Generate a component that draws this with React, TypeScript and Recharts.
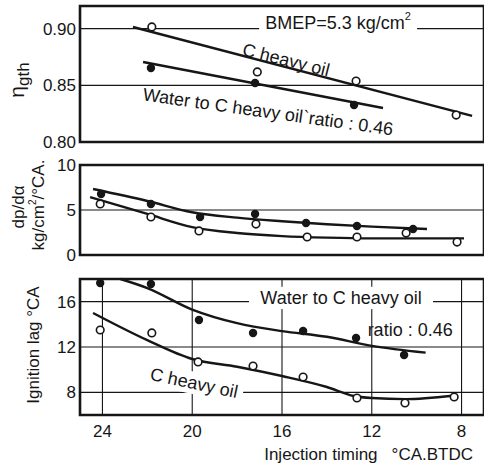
import React from 'react';
import { ComposedChart, Line, Scatter, XAxis, YAxis, CartesianGrid, ReferenceArea, ReferenceDot } from 'recharts';

const xTicks = [24, 20, 16, 12, 8];
const xDomain: [number, number] = [7, 25];

// thermal efficiency panel
const etaHeavyPts = [
  { x: 21.8, y: 0.9015 }, { x: 17.1, y: 0.8618 }, { x: 12.7, y: 0.8538 }, { x: 8.24, y: 0.8238 },
];
const etaWaterPts = [
  { x: 21.84, y: 0.8653 }, { x: 17.2, y: 0.852 }, { x: 12.79, y: 0.8327 },
];
const etaHeavyFit = [{ x: 22.64, y: 0.9015 }, { x: 7.53, y: 0.823 }];
const etaWaterFit = [{ x: 22.19, y: 0.8706 }, { x: 11.5, y: 0.83 }];

// rate of pressure rise panel
const dpWaterPts = [
  { x: 24.06, y: 6.78 }, { x: 21.84, y: 5.67 }, { x: 19.65, y: 4.22 }, { x: 17.2, y: 4.56 },
  { x: 14.93, y: 3.56 }, { x: 12.66, y: 3.22 }, { x: 10.16, y: 2.89 },
];
const dpHeavyPts = [
  { x: 24.1, y: 5.67 }, { x: 21.84, y: 4.22 }, { x: 19.7, y: 2.67 }, { x: 17.16, y: 3.44 },
  { x: 14.88, y: 2.0 }, { x: 12.66, y: 2.0 }, { x: 10.47, y: 2.44 }, { x: 8.2, y: 1.44 },
];
const dpWaterCurve = [
  { x: 24.42, y: 7.33 }, { x: 22, y: 6.0 }, { x: 20, y: 4.75 }, { x: 18, y: 4.15 },
  { x: 16, y: 3.75 }, { x: 14, y: 3.42 }, { x: 12, y: 3.15 }, { x: 9.54, y: 2.89 },
];
const dpHeavyCurve = [
  { x: 24.55, y: 6.44 }, { x: 22, y: 4.56 }, { x: 20, y: 3.1 }, { x: 18, y: 2.44 },
  { x: 16, y: 2.1 }, { x: 14, y: 1.93 }, { x: 12, y: 1.85 }, { x: 7.89, y: 1.85 },
];

// ignition lag panel
const lagWaterPts = [
  { x: 24.1, y: 17.65 }, { x: 21.84, y: 17.56 }, { x: 19.7, y: 14.38 }, { x: 17.29, y: 13.24 },
  { x: 15.06, y: 13.41 }, { x: 12.7, y: 12.8 }, { x: 10.56, y: 11.3 },
];
const lagHeavyPts = [
  { x: 24.1, y: 13.5 }, { x: 21.8, y: 13.24 }, { x: 19.74, y: 10.68 }, { x: 17.29, y: 10.32 },
  { x: 15.06, y: 9.35 }, { x: 12.66, y: 7.5 }, { x: 10.52, y: 7.06 }, { x: 8.33, y: 7.59 },
];
const lagWaterCurve = [
  { x: 23.2, y: 18.0 }, { x: 22, y: 17.2 }, { x: 20, y: 15.3 }, { x: 18, y: 14.1 },
  { x: 16, y: 13.4 }, { x: 14, y: 12.9 }, { x: 12, y: 12.1 }, { x: 9.6, y: 11.5 },
];
const lagHeavyCurve = [
  { x: 24.42, y: 15.0 }, { x: 22, y: 12.6 }, { x: 20, y: 10.94 }, { x: 18, y: 10.26 },
  { x: 16, y: 9.44 }, { x: 14, y: 8.47 }, { x: 12.8, y: 7.68 }, { x: 12, y: 7.5 },
  { x: 10.5, y: 7.4 }, { x: 8.4, y: 7.7 },
];

const INK = '#161616';
const FONT = '"Liberation Sans", Arial, sans-serif';

const filledDot = (p: any) => <circle cx={p.cx} cy={p.cy} r={4.2} fill={INK} />;
const openDot = (p: any) => <circle cx={p.cx} cy={p.cy} r={3.8} fill="#fff" stroke={INK} strokeWidth={1.6} />;

const note = (text: React.ReactNode, angle: number, bgWidth: number, size = 18) => (p: any) => (
  <g transform={`translate(${p.cx},${p.cy}) rotate(${angle})`}>
    {bgWidth > 0 && <rect x={-bgWidth / 2} y={-size * 0.62} width={bgWidth} height={size * 1.24} fill="#fff" />}
    <text textAnchor="middle" dominantBaseline="central" fontSize={size} fill={INK} fontFamily={FONT}>{text}</text>
  </g>
);

const tickStyle = { fontSize: 17, fill: INK, fontFamily: FONT };

const curve = (data: any[], type: 'monotone' | 'linear', key: string) => (
  <Line key={key} data={data} dataKey="y" type={type} dot={false} stroke={INK} strokeWidth={2.4} isAnimationActive={false} />
);

const Frame = ({ lo, hi }: { lo: number; hi: number }) => (
  <ReferenceArea x1={xDomain[0]} x2={xDomain[1]} y1={lo} y2={hi} fill="none" stroke={INK} strokeWidth={2.6} />
);

const App: React.FC = () => {
  return (
    <div style={{ position: 'fixed', left: 0, top: 0, width: 484, height: 469, background: '#fff', fontFamily: FONT }}>
      {/* top: thermal efficiency */}
      <div style={{ position: 'absolute', left: 0, top: 0 }}>
        <ComposedChart width={484} height={160} margin={{ top: 6, right: 0, bottom: 18, left: 0 }}>
          <CartesianGrid stroke={INK} strokeWidth={1.1} />
          <XAxis type="number" dataKey="x" domain={xDomain} reversed ticks={xTicks} interval={0} height={0} tick={false} axisLine={false} tickLine={false} />
          <YAxis type="number" domain={[0.8, 0.92]} ticks={[0.8, 0.85, 0.9]} interval={0} width={80} tickSize={0} tickMargin={4}
            axisLine={false} tick={tickStyle} tickFormatter={(v: number) => v.toFixed(2)}
            label={{ content: () => (
              <g transform="translate(24,80) rotate(-90)">
                <text textAnchor="middle" fontSize={21} fill={INK} fontFamily={FONT}>
                  η<tspan fontSize={17} dy={5}>gth</tspan>
                </text>
              </g>
            ) }} />
          <Frame lo={0.8} hi={0.92} />
          {curve(etaHeavyFit, 'linear', 'ehf')}
          {curve(etaWaterFit, 'linear', 'ewf')}
          <Scatter data={etaHeavyPts} dataKey="y" shape={openDot} isAnimationActive={false} />
          <Scatter data={etaWaterPts} dataKey="y" shape={filledDot} isAnimationActive={false} />
          <ReferenceDot x={13.5} y={0.905} r={0} shape={note(<>BMEP=5.3 kg/cm<tspan fontSize={11} dy={-7}>2</tspan></>, 0, 158)} />
          <ReferenceDot x={15.82} y={0.8724} r={0} shape={note('C heavy oil', 14, 0)} />
          <ReferenceDot x={16.62} y={0.8265} r={0} shape={note('Water to C heavy oil`ratio : 0.46', 8, 0)} />
        </ComposedChart>
      </div>

      {/* middle: rate of pressure rise */}
      <div style={{ position: 'absolute', left: 0, top: 150 }}>
        <ComposedChart width={484} height={120} margin={{ top: 15, right: 0, bottom: 15, left: 0 }}>
          <CartesianGrid stroke={INK} strokeWidth={1.1} />
          <XAxis type="number" dataKey="x" domain={xDomain} reversed ticks={xTicks} interval={0} height={0} tick={false} axisLine={false} tickLine={false} />
          <YAxis type="number" domain={[0, 10]} ticks={[0, 5, 10]} interval={0} width={80} tickSize={0} tickMargin={4}
            axisLine={false} tick={tickStyle}
            label={{ content: () => (
              <g fontFamily={FONT} fill={INK} fontSize={17}>
                <g transform="translate(18,57) rotate(-90)">
                  <text textAnchor="middle" dominantBaseline="central">dp/dα</text>
                </g>
                <g transform="translate(38,55) rotate(-90)">
                  <text textAnchor="middle" dominantBaseline="central">
                    kg/cm<tspan fontSize={10} dy={-6}>2</tspan><tspan dy={6}>/°CA.</tspan>
                  </text>
                </g>
              </g>
            ) }} />
          <Frame lo={0} hi={10} />
          {curve(dpWaterCurve, 'monotone', 'dwc')}
          {curve(dpHeavyCurve, 'monotone', 'dhc')}
          <Scatter data={dpHeavyPts} dataKey="y" shape={openDot} isAnimationActive={false} />
          <Scatter data={dpWaterPts} dataKey="y" shape={filledDot} isAnimationActive={false} />
        </ComposedChart>
      </div>

      {/* bottom: ignition lag */}
      <div style={{ position: 'absolute', left: 0, top: 270 }}>
        <ComposedChart width={484} height={199} margin={{ top: 9, right: 0, bottom: 0, left: 0 }}>
          <CartesianGrid stroke={INK} strokeWidth={1.1} />
          <XAxis type="number" dataKey="x" domain={xDomain} reversed ticks={xTicks} interval={0} height={54} tickSize={0} tickMargin={10}
            axisLine={false} tick={tickStyle}
            label={{ content: () => (
              <text x={473} y={190} textAnchor="end" fontSize={17} fill={INK} fontFamily={FONT}>
                Injection timing<tspan dx={14}>°CA.BTDC</tspan>
              </text>
            ) }} />
          <YAxis type="number" domain={[6, 18]} ticks={[8, 12, 16]} interval={0} width={80} tickSize={0} tickMargin={4}
            axisLine={false} tick={tickStyle}
            label={{ content: () => (
              <g transform="translate(33,75) rotate(-90)">
                <text textAnchor="middle" dominantBaseline="central" fontSize={17} fill={INK} fontFamily={FONT}>
                  Ignition lag °CA
                </text>
              </g>
            ) }} />
          <Frame lo={6} hi={18} />
          {curve(lagWaterCurve, 'monotone', 'lwc')}
          {curve(lagHeavyCurve, 'monotone', 'lhc')}
          <Scatter data={lagHeavyPts} dataKey="y" shape={openDot} isAnimationActive={false} />
          <Scatter data={lagWaterPts} dataKey="y" shape={filledDot} isAnimationActive={false} />
          <ReferenceDot x={13.37} y={16.33} r={0} shape={note('Water to C heavy oil', 0, 184)} />
          <ReferenceDot x={10.29} y={13.5} r={0} shape={note('ratio : 0.46', 0, 0)} />
          <ReferenceDot x={19.92} y={8.82} r={0} shape={note('C heavy oil', 12, 100)} />
        </ComposedChart>
      </div>
    </div>
  );
};

export default App;
